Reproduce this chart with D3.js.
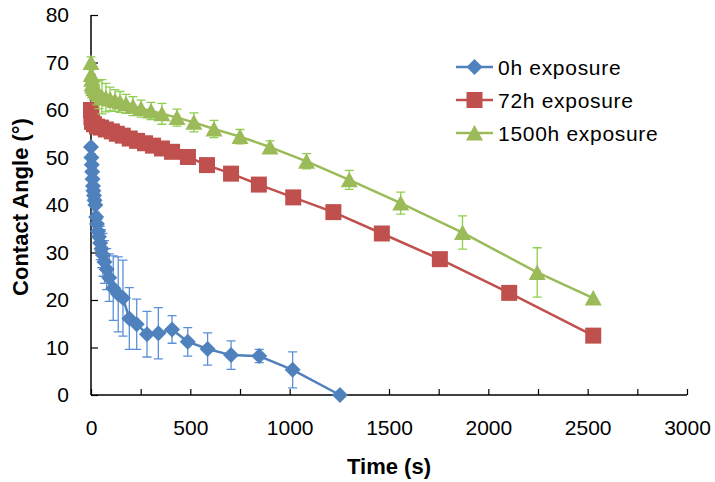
<!DOCTYPE html>
<html><head><meta charset="utf-8">
<script src="https://cdn.jsdelivr.net/npm/d3@7"></script>
<style>
html,body{margin:0;padding:0;background:#fff;}
svg{display:block;font-family:"Liberation Sans",Arial,sans-serif;}
</style></head>
<body><svg id="chart" width="715" height="482"></svg>
<script>
// ---- data ----
const seriesNames = ["0h exposure", "72h exposure", "1500h exposure"];
const xTicks = [0, 500, 1000, 1500, 2000, 2500, 3000];
const yTicks = [0, 10, 20, 30, 40, 50, 60, 70, 80];

const t0h = [0,2,4,6,8,10,12,15,18,22,26,30,35,40,46,53,60,68,79,92,112,137,161,193,230,282,339,408,487,587,705,847,1015,1253];
const v0h = [52.2,50,48.5,47,45.5,44,43,42,41,40,37.5,36,34.5,33.3,32,30.8,29.5,28,26.5,24.7,22.5,21.2,20.4,16.1,14.9,12.8,13,13.8,11.2,9.7,8.4,8.2,5.3,0];
const e0h = [0.5,0.8,1,1,1,1,1,1.2,1.5,1.5,2,2,2.5,3,3.5,4,4.5,4.5,4.3,5,6.8,7.9,8,6.5,5.3,4.8,5.4,2.9,3,3.4,3,1.4,3.8,0];

const t72h = [0,2,5,15,30,50,75,105,130,160,195,232,272,312,357,408,488,584,705,845,1018,1220,1464,1756,2105,2528];
const v72h = [60,58.5,57.5,57,56.5,56.3,55.9,55.5,55,54.6,54,53.5,53,52.5,51.9,51.2,50.1,48.4,46.6,44.3,41.6,38.5,34,28.6,21.5,12.5];
const e72h = t72h.map(() => 0);

const t1500h = [0,1,3,5,9,14,22,30,40,55,75,96,121,146,176,211,252,302,357,433,518,619,750,901,1085,1300,1559,1870,2246,2528];
const v1500h = [70,67.5,66.5,65.5,65,64.5,64,63.6,63.3,62.8,62.6,62.3,62,61.7,61.3,60.8,60.3,59.8,59.2,58.4,57.4,56,54.4,52.2,49.2,45.3,40.4,34.2,25.8,20.4];
const e1500h = [1.2,1,1,1,1,1.5,2,2.5,3,3.6,3,2.5,2.3,2.2,2,2,1.8,1.8,2.2,1.8,2,1.8,1.5,1.3,1.6,2,2.3,3.5,5.2,0];

// ---- build ----
const svg = d3.select("#chart");
const x = d3.scaleLinear().domain([0, 3000]).range([91, 687]);
const y = d3.scaleLinear().domain([0, 80]).range([395, 15]);

const colors = ["#4F81BD", "#C0504D", "#9BBB59"];
const errColors = ["#5B90D8", null, "#8DCF4E"];
const shapes = [
  "M0,-8L8,0L0,8L-8,0Z",
  "M-8,-8H8V8H-8Z",
  "M0,-8L8.5,7.5H-8.5Z"
];
const series = [
  {t: t0h, v: v0h, e: e0h},
  {t: t72h, v: v72h, e: e72h},
  {t: t1500h, v: v1500h, e: e1500h}
];

// axes
const xAxis = d3.axisBottom(x).tickValues(d3.range(0, 3001, 250)).tickSize(-6).tickFormat(d => xTicks.includes(d) ? d : "").tickPadding(25);
const gx = svg.append("g").attr("transform", `translate(0,${y(0)})`).call(xAxis);
gx.select(".domain").attr("stroke", "#000").attr("stroke-width", 1.5).attr("d", `M${x(0)},0H${x(3000)}`);
gx.selectAll(".tick line").attr("stroke", "#000").attr("stroke-width", 1.2);
gx.selectAll(".tick text").attr("font-size", 21).attr("fill", "#000").attr("font-family", "Liberation Sans, Arial, sans-serif");

const yAxis = d3.axisLeft(y).tickValues(yTicks).tickSize(-7).tickPadding(22);
const gy = svg.append("g").attr("transform", `translate(${x(0)},0)`).call(yAxis);
gy.select(".domain").attr("stroke", "#000").attr("stroke-width", 1.5).attr("d", `M0,${y(80)}V${y(0)}`);
gy.selectAll(".tick line").attr("stroke", "#000").attr("stroke-width", 1.2);
gy.selectAll(".tick text").attr("font-size", 21).attr("fill", "#000").attr("font-family", "Liberation Sans, Arial, sans-serif");

// axis titles
svg.append("text").attr("x", 389).attr("y", 474).attr("text-anchor", "middle")
  .attr("font-size", 22).attr("font-weight", "bold").text("Time (s)");
svg.append("text").attr("transform", "translate(28,207) rotate(-90)").attr("text-anchor", "middle")
  .attr("font-size", 22).attr("font-weight", "bold").text("Contact Angle (°)");

// series
const line = d3.line().x(d => x(d[0])).y(d => y(d[1]));
series.forEach((s, i) => {
  const pts = s.t.map((t, k) => [t, s.v[k], s.e[k]]);
  const g = svg.append("g");
  g.append("path").datum(pts).attr("d", line).attr("fill", "none")
    .attr("stroke", colors[i]).attr("stroke-width", 2.5).attr("stroke-linejoin", "round");
  if (errColors[i]) {
    const eb = g.append("g").attr("stroke", errColors[i]).attr("stroke-width", 1.3).attr("fill", "none");
    pts.filter(d => d[2] > 0).forEach(d => {
      const cx = x(d[0]), y1 = y(d[1] + d[2]), y2 = y(d[1] - d[2]);
      eb.append("path").attr("d", `M${cx},${y1}V${y2}M${cx-4.5},${y1}H${cx+4.5}M${cx-4.5},${y2}H${cx+4.5}`);
    });
  }
  g.selectAll("path.m").data(pts).enter().append("path").attr("class", "m")
    .attr("d", shapes[i]).attr("transform", d => `translate(${x(d[0])},${y(d[1])})`)
    .attr("fill", colors[i]);
});

// legend
const legY = [67, 100, 133];
seriesNames.forEach((name, i) => {
  const g = svg.append("g").attr("transform", `translate(0,${legY[i]})`);
  g.append("line").attr("x1", 456).attr("x2", 493).attr("y1", 0).attr("y2", 0)
    .attr("stroke", colors[i]).attr("stroke-width", 2.5);
  g.append("path").attr("d", shapes[i]).attr("transform", "translate(474.5,0)").attr("fill", colors[i]);
  g.append("text").attr("x", 498).attr("y", 7.5).attr("font-size", 21)
    .attr("letter-spacing", 0.7).text(name);
});
</script></body></html>
